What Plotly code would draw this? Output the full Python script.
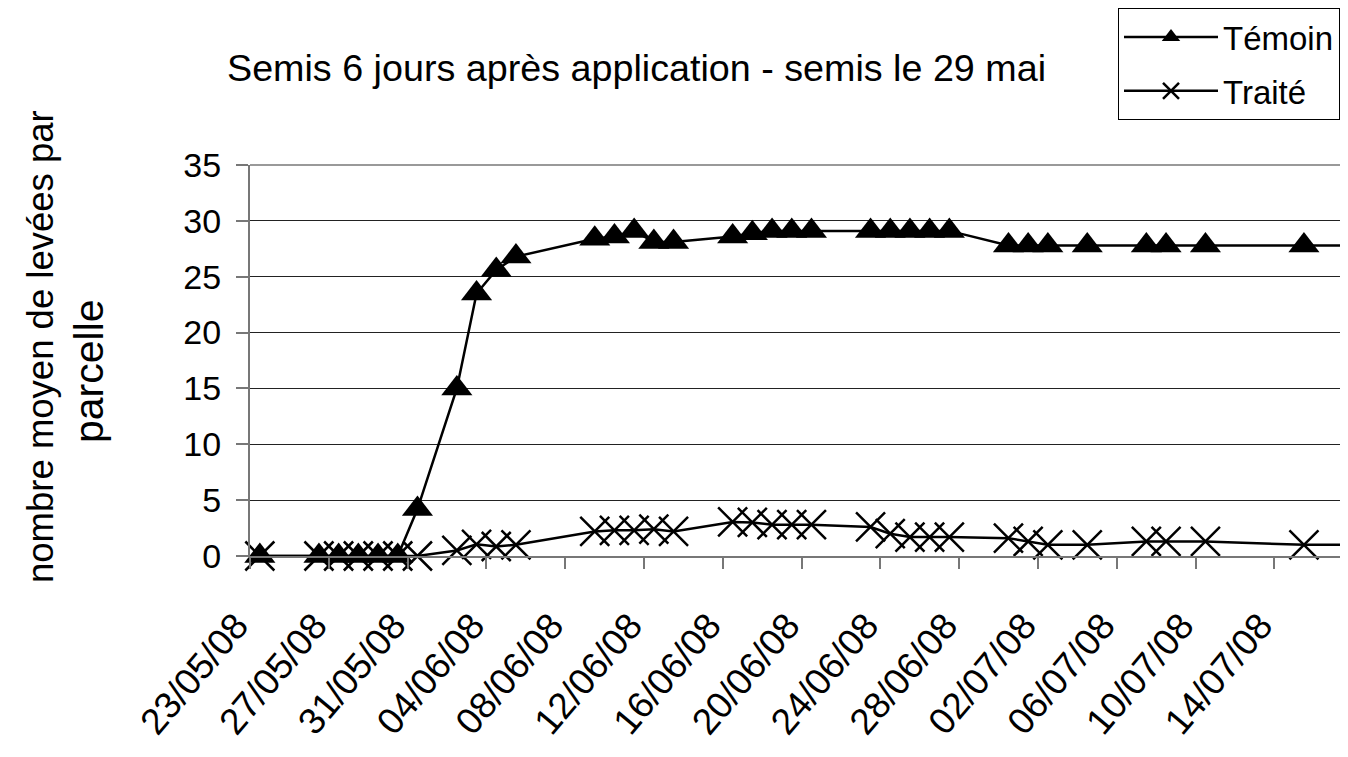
import plotly.graph_objects as go
import pandas as pd

# ---- data ----
dates = ["2008-05-23", "2008-05-26", "2008-05-27", "2008-05-28", "2008-05-29",
         "2008-05-30", "2008-05-31", "2008-06-02", "2008-06-03", "2008-06-04",
         "2008-06-05", "2008-06-09", "2008-06-10", "2008-06-11", "2008-06-12",
         "2008-06-13", "2008-06-16", "2008-06-17", "2008-06-18", "2008-06-19",
         "2008-06-20", "2008-06-23", "2008-06-24", "2008-06-25", "2008-06-26",
         "2008-06-27", "2008-06-30", "2008-07-01", "2008-07-02", "2008-07-04",
         "2008-07-07", "2008-07-08", "2008-07-10", "2008-07-15", "2008-07-17"]

temoin = [0, 0, 0, 0, 0,
          0, 4.2, 15.0, 23.5, 25.6,
          26.8, 28.4, 28.6, 29.1, 28.1,
          28.1, 28.6, 28.9, 29.1, 29.1,
          29.1, 29.1, 29.1, 29.1, 29.1,
          29.1, 27.8, 27.8, 27.8, 27.8,
          27.8, 27.8, 27.8, 27.8, 27.8]

traite = [0, 0, 0, 0, 0,
          0, 0, 0.5, 1.05, 0.85,
          1.0, 2.2, 2.3, 2.3, 2.4,
          2.2, 3.05, 3.0, 2.8, 2.8,
          2.8, 2.6, 2.0, 1.7, 1.7,
          1.7, 1.6, 1.3, 1.0, 1.0,
          1.3, 1.3, 1.3, 1.0, 1.0]

series_names = ["Témoin", "Traité"]
title_text = "Semis 6 jours après application - semis le 29 mai"
y_title_lines = ["nombre moyen de levées par", "parcelle"]
y_ticks = [0, 5, 10, 15, 20, 25, 30, 35]

# ---- figure geometry (page has an 8px body margin) ----
OFF = 8
W, H = 1332, 740
L, R, T = 242, 0, 157
PLOT_BOTTOM = 548
B = H - PLOT_BOTTOM
pw, ph = W - L - R, PLOT_BOTTOM - T

def px_x(p):  # page pixel -> paper fraction
    return (p - OFF - L) / pw

def px_y(p):
    return (PLOT_BOTTOM - (p - OFF)) / ph

FONT = "Liberation Sans, Arial, sans-serif"

# points sit at the middle of each day slot (date axis)
x_vals = pd.to_datetime(dates) + pd.Timedelta(hours=12)

fig = go.Figure()
fig.add_trace(go.Scatter(
    x=x_vals, y=temoin, name=series_names[0], mode="lines+markers",
    line=dict(color="black", width=2.5),
    marker=dict(symbol="triangle-up", size=27, color="black"),
    legendgroup="a", cliponaxis=False,
))
fig.add_trace(go.Scatter(
    x=x_vals, y=traite, name=series_names[1], mode="lines+markers",
    line=dict(color="black", width=2.5),
    marker=dict(symbol="x-thin", size=29, color="black",
                line=dict(color="black", width=2.5)),
    legendgroup="b", cliponaxis=False,
))

PX_PER_DAY = 19.7
x_start = pd.Timestamp("2008-05-23")
x_end = x_start + pd.Timedelta(days=pw / PX_PER_DAY)

fig.update_layout(
    width=W, height=H, autosize=False,
    margin=dict(l=L, r=R, t=T, b=B, pad=0, autoexpand=False),
    paper_bgcolor="white",
    plot_bgcolor="white",
    font=dict(family=FONT, size=34, color="black"),
    showlegend=True,
    legend=dict(
        x=px_x(1118), y=px_y(8), xanchor="left", yanchor="top",
        bgcolor="white", bordercolor="black", borderwidth=1,
        font=dict(size=33, family=FONT), tracegroupgap=8,
        itemwidth=94,
    ),
    xaxis=dict(
        type="date", range=[x_start, x_end], automargin=False,
        tick0="2008-05-23", dtick=4 * 86400000, tickformat="%d/%m/%y",
        tickangle=-50, ticks="outside", ticklen=11, tickcolor="#777",
        tickwidth=2, showgrid=False, showline=True, linecolor="#777",
        linewidth=2, zeroline=False, ticklabelstandoff=20,
        ticklabelshift=-14,
        tickfont=dict(size=37, family=FONT),
    ),
    yaxis=dict(
        range=[0, 35], tickvals=y_ticks, ticks="outside", ticklen=12,
        automargin=False,
        tickcolor="#777", tickwidth=2, showgrid=True, gridcolor="#222",
        gridwidth=1, showline=True, linecolor="#777", linewidth=2,
        zeroline=False, tickfont=dict(size=34, family=FONT),
        ticklabelstandoff=8,
    ),
    shapes=[
        dict(type="line", xref="paper", yref="paper",
             x0=0, x1=1, y0=1, y1=1,
             line=dict(color="#999", width=2)),
    ],
    annotations=[
        dict(text=title_text, xref="paper", yref="paper",
             x=px_x(636), y=px_y(68), xanchor="center", yanchor="middle",
             showarrow=False, font=dict(size=37.7, family=FONT)),
        dict(text=y_title_lines[0], xref="paper", yref="paper",
             x=px_x(40), y=px_y(347), xanchor="center", yanchor="middle",
             textangle=-90, showarrow=False,
             font=dict(size=36.5, family=FONT)),
        dict(text=y_title_lines[1], xref="paper", yref="paper",
             x=px_x(89), y=px_y(371), xanchor="center", yanchor="middle",
             textangle=-90, showarrow=False,
             font=dict(size=41, family=FONT)),
    ],
)

fig.write_html("out.html")
